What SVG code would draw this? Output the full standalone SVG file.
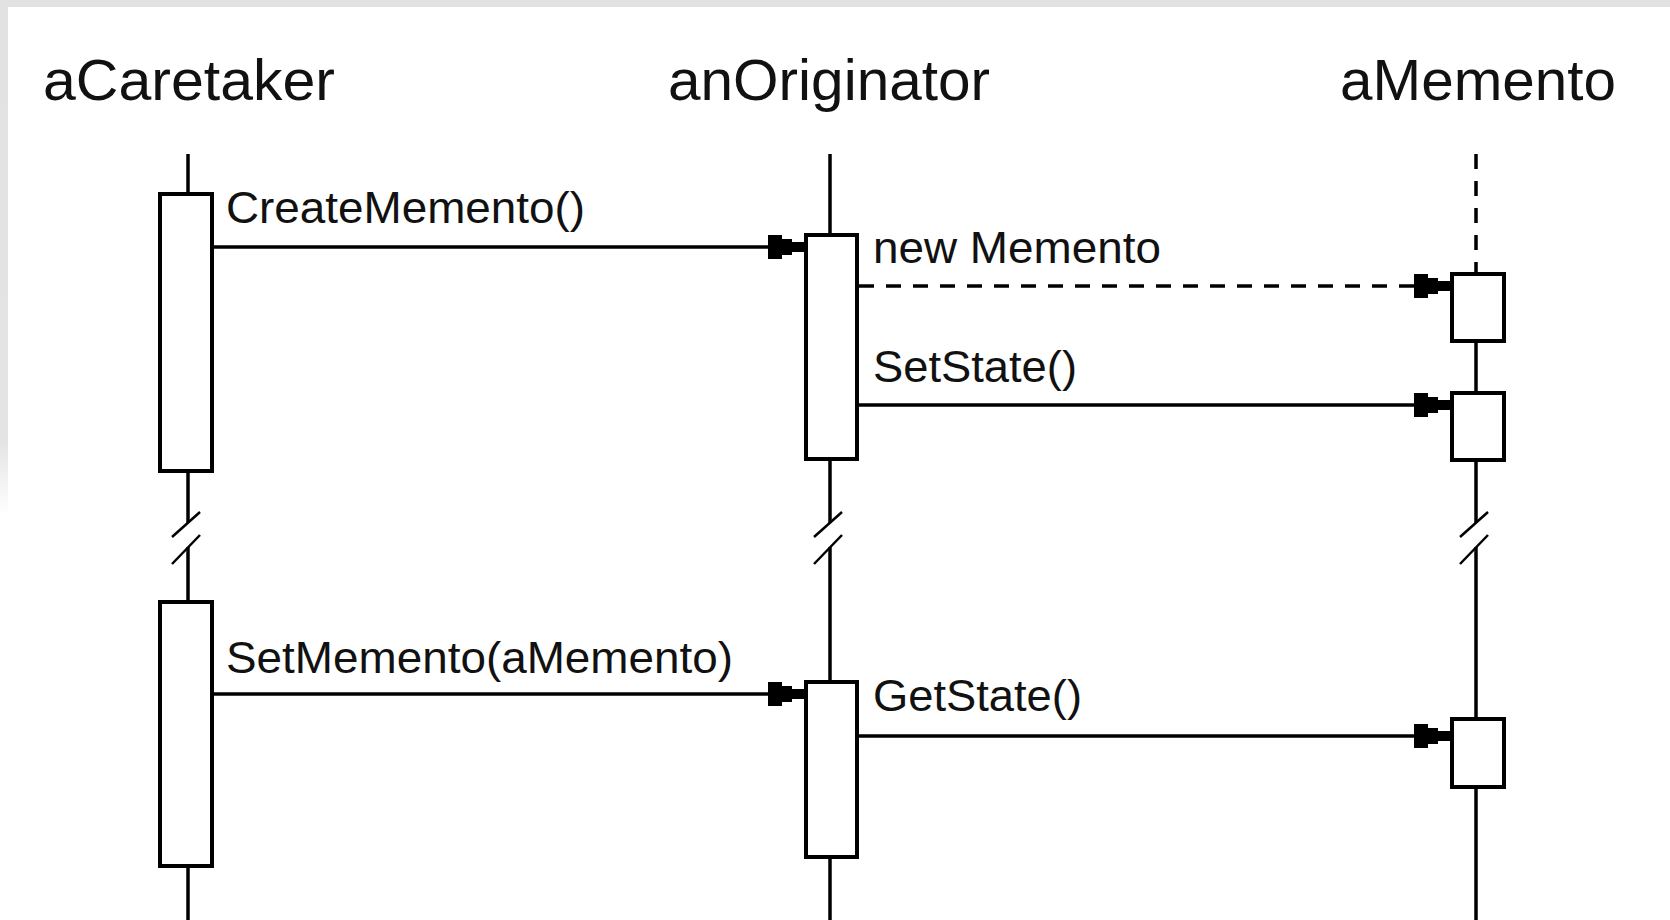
<svg xmlns="http://www.w3.org/2000/svg" width="1670" height="920" viewBox="0 0 1670 920">
  <style>
    .hdr { font-family: "Liberation Sans", Arial, sans-serif; font-size: 58px; fill: #111; }
    .lbl { font-family: "Liberation Sans", Arial, sans-serif; font-size: 45px; fill: #111; }
    .life { stroke: #000; stroke-width: 3.5; fill: none; }
    .dashlife { stroke: #000; stroke-width: 3.5; fill: none; stroke-dasharray: 15 12; }
    .act { stroke: #000; stroke-width: 4; fill: #fff; }
    .brk { stroke: #000; stroke-width: 2.5; fill: none; }
    .msg { stroke: #000; stroke-width: 3.5; fill: none; marker-end: url(#head); }
    .msg.dash { stroke-dasharray: 15 12; }
  </style>
  <defs>
    <marker id="head" viewBox="0 -15 40 30" markerUnits="userSpaceOnUse" markerWidth="40" markerHeight="30" refX="36" refY="0" orient="auto">
      <polygon points="0,-12 14,-12 14,-8 24,-8 24,-5 36,-5 36,5 24,5 24,8 14,8 14,12 0,12" fill="#000"/>
    </marker>
    <linearGradient id="edge" x1="0" y1="0" x2="0" y2="1">
      <stop offset="0" stop-color="#e2e2e2"/>
      <stop offset="0.48" stop-color="#e4e4e4"/>
      <stop offset="0.56" stop-color="#ffffff"/>
    </linearGradient>
  </defs>
  <rect x="0" y="0" width="1670" height="920" fill="#fff"/>
  <rect x="0" y="0" width="1670" height="7" fill="#e2e2e2"/>
  <rect x="0" y="0" width="8" height="920" fill="url(#edge)"/>

  <g id="aCaretaker">
    <text class="hdr" x="43" y="100" textLength="292" lengthAdjust="spacingAndGlyphs">aCaretaker</text>
    <line class="life" x1="188" y1="154" x2="188" y2="194"/>
    <line class="life" x1="188" y1="471" x2="188" y2="523"/>
    <line class="life" x1="188" y1="547" x2="188" y2="602"/>
    <line class="life" x1="188" y1="866" x2="188" y2="920"/>
    <line class="brk" x1="172" y1="537" x2="200" y2="512"/>
    <line class="brk" x1="172" y1="564" x2="200" y2="535"/>
    <rect class="act" x="160" y="194" width="52" height="277"/>
    <rect class="act" x="160" y="602" width="52" height="264"/>
  </g>

  <g id="anOriginator">
    <text class="hdr" x="668" y="100" textLength="322" lengthAdjust="spacingAndGlyphs">anOriginator</text>
    <line class="life" x1="830" y1="154" x2="830" y2="235"/>
    <line class="life" x1="830" y1="459" x2="830" y2="523"/>
    <line class="life" x1="830" y1="547" x2="830" y2="682"/>
    <line class="life" x1="830" y1="857" x2="830" y2="920"/>
    <line class="brk" x1="814" y1="537" x2="842" y2="512"/>
    <line class="brk" x1="814" y1="564" x2="842" y2="535"/>
    <rect class="act" x="806" y="235" width="51" height="224"/>
    <rect class="act" x="806" y="682" width="51" height="175"/>
  </g>

  <g id="aMemento">
    <text class="hdr" x="1340" y="100" textLength="276" lengthAdjust="spacingAndGlyphs">aMemento</text>
    <line class="dashlife" x1="1476" y1="154" x2="1476" y2="274"/>
    <line class="life" x1="1476" y1="341" x2="1476" y2="393"/>
    <line class="life" x1="1476" y1="460" x2="1476" y2="523"/>
    <line class="life" x1="1476" y1="547" x2="1476" y2="719"/>
    <line class="life" x1="1476" y1="787" x2="1476" y2="920"/>
    <line class="brk" x1="1460" y1="537" x2="1488" y2="512"/>
    <line class="brk" x1="1460" y1="564" x2="1488" y2="535"/>
    <rect class="act" x="1452" y="274" width="52" height="67"/>
    <rect class="act" x="1452" y="393" width="52" height="67"/>
    <rect class="act" x="1452" y="719" width="52" height="68"/>
  </g>

  <g id="connectors">
    <line class="msg" x1="212" y1="247" x2="804" y2="247"/>
    <text class="lbl" x="226" y="223" textLength="359" lengthAdjust="spacingAndGlyphs">CreateMemento()</text>
    <line class="msg dash" x1="859" y1="286" x2="1450" y2="286"/>
    <text class="lbl" x="873" y="263" textLength="288" lengthAdjust="spacingAndGlyphs">new Memento</text>
    <line class="msg" x1="857" y1="405" x2="1450" y2="405"/>
    <text class="lbl" x="873" y="382" textLength="204" lengthAdjust="spacingAndGlyphs">SetState()</text>
    <line class="msg" x1="212" y1="694" x2="804" y2="694"/>
    <text class="lbl" x="226" y="673" textLength="507" lengthAdjust="spacingAndGlyphs">SetMemento(aMemento)</text>
    <line class="msg" x1="857" y1="736" x2="1450" y2="736"/>
    <text class="lbl" x="873" y="711" textLength="209" lengthAdjust="spacingAndGlyphs">GetState()</text>
  </g>
</svg>
